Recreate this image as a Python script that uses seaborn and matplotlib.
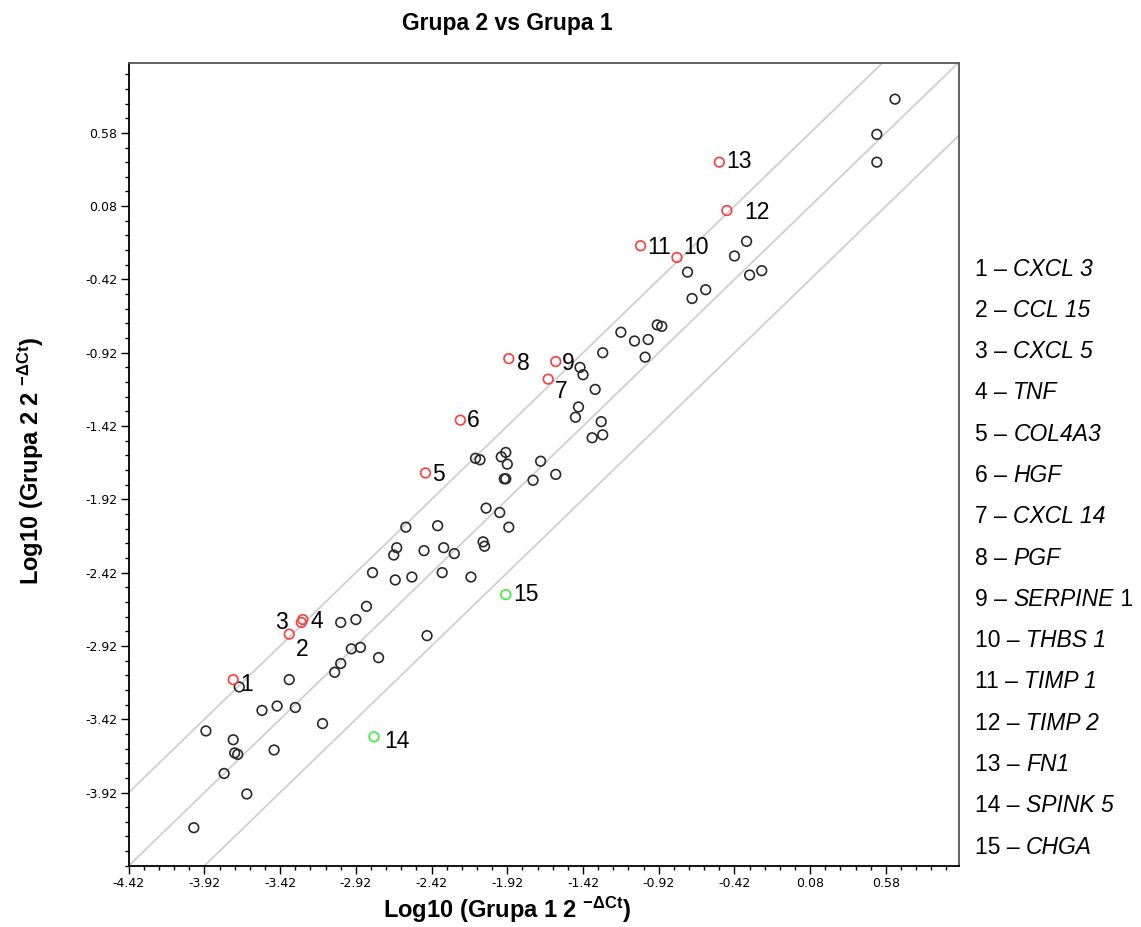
import numpy as np
import pandas as pd
import matplotlib
matplotlib.use("Agg")
import matplotlib.pyplot as plt
import seaborn as sns
from matplotlib.ticker import FixedLocator, FixedFormatter

# ---------------- data ----------------
other_x = [-3.69, -3.91, -3.73, -3.72, -3.70, -3.79, -3.64, -3.99, -3.54, -3.44, -3.32, -3.36,
           -3.46, -3.14, -3.06, -3.02, -2.95, -2.89, -2.77, -3.02, -2.92, -2.85, -2.45,
           -1.45, -1.47, -1.30, -1.29, -1.36, -2.13, -2.10, -1.96, -1.93, -1.92, -1.94, -1.93,
           -1.70, -1.75, -1.60, -2.06, -1.97, -1.91, -2.59, -2.38, -2.65, -2.67, -2.47, -2.34,
           -2.27, -2.08, -2.07, -2.81, -2.66, -2.55, -2.35, -2.16,
           0.64, 0.52, 0.52, -0.34, -0.42, -0.73, -0.32, -0.24, -0.61, -0.70, -1.17, -0.93,
           -0.90, -1.08, -0.99, -1.01, -1.29, -1.44, -1.42, -1.34]
other_y = [-3.20, -3.50, -3.56, -3.65, -3.66, -3.79, -3.93, -4.16, -3.36, -3.33, -3.34, -3.15,
           -3.63, -3.45, -3.10, -3.04, -2.94, -2.93, -3.00, -2.76, -2.74, -2.65, -2.85,
           -1.29, -1.36, -1.39, -1.48, -1.50, -1.64, -1.65, -1.63, -1.60, -1.68, -1.78, -1.78,
           -1.66, -1.79, -1.75, -1.98, -2.01, -2.11, -2.11, -2.10, -2.25, -2.30, -2.27, -2.25,
           -2.29, -2.21, -2.24, -2.42, -2.47, -2.45, -2.42, -2.45,
           0.81, 0.57, 0.38, -0.16, -0.26, -0.37, -0.39, -0.36, -0.49, -0.55, -0.78, -0.73,
           -0.74, -0.84, -0.83, -0.95, -0.92, -1.02, -1.07, -1.17]

gene_ids = list(range(1, 16))
gene_names = ["CXCL 3", "CCL 15", "CXCL 5", "TNF", "COL4A3", "HGF", "CXCL 14", "PGF",
              "SERPINE", "THBS 1", "TIMP 1", "TIMP 2", "FN1", "SPINK 5", "CHGA"]
gene_suffix = ["", "", "", "", "", "", "", "", " 1", "", "", "", "", "", ""]
gene_x = [-3.73, -3.36, -3.28, -3.27, -2.46, -2.23, -1.65, -1.91, -1.60, -0.80, -1.04,
          -0.47, -0.52, -2.80, -1.93]
gene_y = [-3.15, -2.84, -2.76, -2.74, -1.74, -1.38, -1.10, -0.96, -0.98, -0.27, -0.19,
          0.05, 0.38, -3.54, -2.57]
gene_group = ["up"] * 13 + ["down"] * 2

fold_offsets = [-0.5, 0.0, 0.5]
axis_min, axis_max = -4.42, 1.06
x_major = [-4.42, -3.92, -3.42, -2.92, -2.42, -1.92, -1.42, -0.92, -0.42, 0.08, 0.58]
x_major_labels = ["-4.42", "-3.92", "-3.42", "-2.92", "-2.42", "-1.92", "-1.42", "-0.92",
                  "-0.42", "0.08", "0.58"]
y_major = [-3.92, -3.42, -2.92, -2.42, -1.92, -1.42, -0.92, -0.42, 0.08, 0.58]
y_major_labels = ["-3.92", "-3.42", "-2.92", "-2.42", "-1.92", "-1.42", "-0.92", "-0.42",
                  "0.08", "0.58"]
minor_step = 0.1

title_text = "Grupa 2 vs Grupa 1"
xlabel_text = "Log10 (Grupa 1 2 $^{\\mathbf{-ΔCt}}$)"
ylabel_text = "Log10 (Grupa 2 2 $^{\\mathbf{-ΔCt}}$)"

# ---------------- style ----------------
sns.set_style("white")
plt.rcParams["font.family"] = ["Liberation Sans", "DejaVu Sans"]
plt.rcParams["mathtext.fontset"] = "custom"
plt.rcParams["mathtext.rm"] = "Liberation Sans"
plt.rcParams["mathtext.it"] = "Liberation Sans:italic"
plt.rcParams["mathtext.bf"] = "Liberation Sans:bold"
for k in ["text.color", "axes.labelcolor", "xtick.color", "ytick.color"]:
    plt.rcParams[k] = "black"

W, H = 1141, 927
fig = plt.figure(figsize=(W / 100, H / 100), dpi=100)
ax = fig.add_axes([128.7 / W, 1 - 865.8 / H, (958.6 - 128.7) / W, (865.8 - 62.5) / H])

for off in fold_offsets:
    ax.axline((0, off), slope=1, color="#cfcfcf", lw=1.3, zorder=1)

df_other = pd.DataFrame({"x": other_x, "y": other_y})
df_genes = pd.DataFrame({"x": gene_x, "y": gene_y, "id": gene_ids, "group": gene_group})

sns.scatterplot(data=df_other, x="x", y="y", ax=ax, marker="o", s=48,
                facecolor="none", edgecolor="#2a2a2a", linewidth=1.2, zorder=3)
sns.scatterplot(data=df_genes[df_genes.group == "up"], x="x", y="y", ax=ax, marker="o",
                s=48, facecolor="none", edgecolor="#ff3c3c", linewidth=1.2, zorder=4)
sns.scatterplot(data=df_genes[df_genes.group == "down"], x="x", y="y", ax=ax, marker="o",
                s=48, facecolor="none", edgecolor="#3cf03c", linewidth=1.2, zorder=4)

# label offsets (pixels) for the numbered genes
label_offsets = {1: (7, -5, "left"), 2: (7, -15, "left"), 3: (-13, 0, "right"),
                 4: (8, -2, "left"), 5: (7, -2, "left"), 6: (7, 0, "left"),
                 7: (7, -12, "left"), 8: (8, -5, "left"), 9: (6, -2, "left"),
                 10: (6, 10, "left"), 11: (7, -2, "left"), 12: (17, -2, "left"),
                 13: (7, 1, "left"), 14: (10, -5, "left"), 15: (7, 0, "left")}
for gid, gx, gy in zip(gene_ids, gene_x, gene_y):
    dx, dy, ha = label_offsets[gid]
    ax.annotate(str(gid), xy=(gx, gy), xytext=(dx * 0.72, dy * 0.72),
                textcoords="offset points", ha=ha, va="center", fontsize=16.5,
                color="black", zorder=5)

ax.set_xlim(axis_min, axis_max)
ax.set_ylim(axis_min, axis_max)
ax.set_xlabel("")
ax.set_ylabel("")

minor_ticks = np.arange(axis_min, axis_max, minor_step)
ax.xaxis.set_major_locator(FixedLocator(x_major))
ax.xaxis.set_major_formatter(FixedFormatter(x_major_labels))
ax.yaxis.set_major_locator(FixedLocator(y_major))
ax.yaxis.set_major_formatter(FixedFormatter(y_major_labels))
ax.xaxis.set_minor_locator(FixedLocator(minor_ticks))
ax.yaxis.set_minor_locator(FixedLocator(minor_ticks))

ax.tick_params(axis="both", which="major", direction="out", length=5.8, width=1.0,
               color="black", labelsize=9, pad=2.5, bottom=True, left=True,
               top=False, right=False)
ax.tick_params(axis="both", which="minor", direction="out", length=3.2, width=1.0,
               color="black", bottom=True, left=True, top=False, right=False)
for lab in ax.get_xticklabels() + ax.get_yticklabels():
    lab.set_family(["DejaVu Sans"])

for side in ["left", "bottom"]:
    ax.spines[side].set_color("black")
    ax.spines[side].set_linewidth(1.3)
for side in ["top", "right"]:
    ax.spines[side].set_color("#555555")
    ax.spines[side].set_linewidth(1.3)

# titles / axis labels
cx = 507.5 / W
fig.text(cx, 1 - 30 / H, title_text, ha="center", va="baseline", fontsize=16.5,
         fontweight="bold")
fig.text(cx, 1 - 918 / H, xlabel_text, ha="center", va="baseline", fontsize=17,
         fontweight="bold")
fig.text(31 / W, 1 - 461 / H, ylabel_text, ha="center", va="center", rotation=90,
         fontsize=17, fontweight="bold")

# gene legend on the right (number upright, gene name italic)
renderer = fig.canvas.get_renderer()
for i, (gid, name, suf) in enumerate(zip(gene_ids, gene_names, gene_suffix)):
    y = 1 - (275.5 + 41.3 * i) / H
    t1 = fig.text(975 / W, y, f"{gid} – ", ha="left", va="baseline", fontsize=16.5)
    x1 = t1.get_window_extent(renderer).x1 / W
    t2 = fig.text(x1, y, name, ha="left", va="baseline", fontsize=16.5, style="italic")
    if suf:
        x2 = t2.get_window_extent(renderer).x1 / W
        fig.text(x2, y, suf, ha="left", va="baseline", fontsize=16.5)

fig.savefig("out.png", dpi=100)
